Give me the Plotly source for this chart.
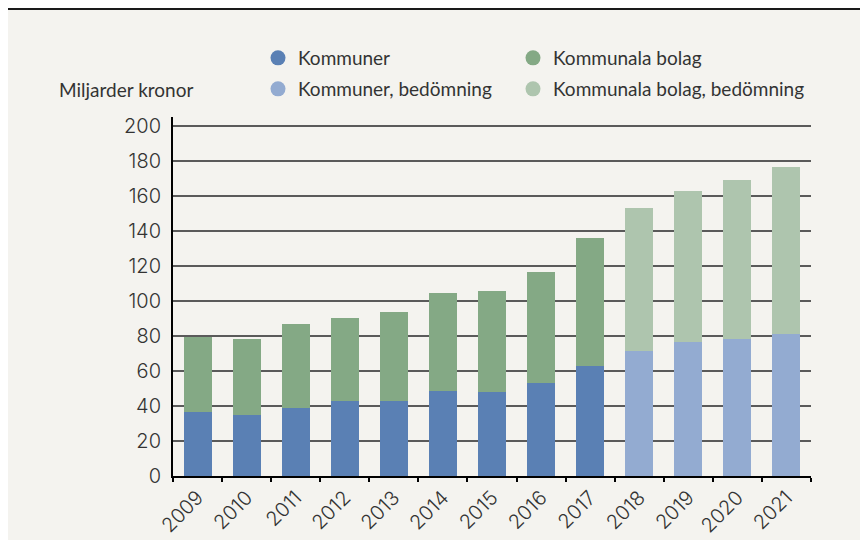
import plotly.graph_objects as go

years = ["2009", "2010", "2011", "2012", "2013", "2014", "2015",
         "2016", "2017", "2018", "2019", "2020", "2021"]
kommuner = [36.6, 34.9, 38.9, 42.9, 43.0, 48.6, 48.0, 53.1, 62.9, None, None, None, None]
kommuner_bed = [None, None, None, None, None, None, None, None, None, 71.4, 76.6, 78.3, 81.1]
totalt = [79.6, 78.3, 86.9, 90.3, 93.7, 104.6, 105.7, 116.6, 136.0, 153.1, 162.9, 169.1, 176.6]

bolag = [t - k if k is not None else None for t, k in zip(totalt, kommuner)]
bolag_bed = [t - k if k is not None else None for t, k in zip(totalt, kommuner_bed)]

C_KOM = "#5a80b4"
C_BOL = "#84a985"
C_KOM_B = "#93abd1"
C_BOL_B = "#aec5ae"
BG = "#f4f3ef"
TXT = "#333333"
FONT = "Lato"
TICKFONT = dict(family="Inter", size=20, color=TXT, weight=300)

W, H = 868, 543
# plot area in figure pixels (page adds 8px body margin)
PX_L, PX_R, PY_T, PY_B = 165, 803, 109, 468


def px(x):
    return (x - PX_L) / (PX_R - PX_L)


def py(y):
    return (PY_B - y) / (PY_B - PY_T)


fig = go.Figure()
for name, vals, col in [("Kommuner", kommuner, C_KOM),
                        ("Kommuner, bedömning", kommuner_bed, C_KOM_B),
                        ("Kommunala bolag", bolag, C_BOL),
                        ("Kommunala bolag, bedömning", bolag_bed, C_BOL_B)]:
    fig.add_trace(go.Bar(x=years, y=vals, name=name, marker=dict(color=col, line=dict(width=0)),
                         showlegend=False))

# legend entries with round markers, one legend per entry so each sits where it should
legend_items = [("Kommuner", C_KOM, "legend", 250, 50),
                ("Kommunala bolag", C_BOL, "legend2", 505, 50),
                ("Kommuner, bedömning", C_KOM_B, "legend3", 250, 81),
                ("Kommunala bolag, bedömning", C_BOL_B, "legend4", 505, 81)]
legends = {}
for name, col, lg, lx, ly in legend_items:
    fig.add_trace(go.Scatter(x=[years[0]], y=[None], mode="markers", name=name, legend=lg,
                             marker=dict(color=col, size=15, symbol="circle")))
    legends[lg] = dict(orientation="h", xanchor="left", yanchor="middle", x=px(lx), y=py(ly),
                       bgcolor="rgba(0,0,0,0)", traceorder="normal", itemclick=False,
                       font=dict(family=FONT, size=19, color=TXT))

fig.update_layout(
    width=W, height=H,
    margin=dict(l=PX_L, r=W - PX_R, t=PY_T, b=H - PY_B, pad=0),
    paper_bgcolor="white",
    plot_bgcolor=BG,
    barmode="stack",
    bargap=0.43,
    font=dict(family=FONT, size=18, color=TXT),
    xaxis=dict(type="category", range=[-0.5, len(years) - 0.5], tickangle=-45,
               showline=True, linecolor="black", linewidth=2,
               ticks="outside", tickson="boundaries", ticklen=4, tickwidth=2, tickcolor="black",
               showgrid=False, tickfont=TICKFONT),
    yaxis=dict(range=[0, 205], dtick=20, tick0=0, showline=True, linecolor="black", linewidth=2,
               showgrid=True, gridcolor="#5a5a5a", gridwidth=1.5, zeroline=False,
               ticks="", ticklabelstandoff=6, tickfont=TICKFONT),
    shapes=[
        dict(type="rect", xref="paper", yref="paper", x0=px(0), x1=px(W), y0=py(532), y1=py(0),
             fillcolor=BG, line=dict(width=0), layer="below"),
        dict(type="line", xref="paper", yref="paper", x0=px(0), x1=px(W), y0=py(0.5), y1=py(0.5),
             line=dict(color="#1a1a1a", width=3)),
    ],
    annotations=[
        dict(text="Miljarder kronor", xref="paper", yref="paper", x=px(49), y=py(81),
             xanchor="left", yanchor="middle", showarrow=False,
             font=dict(family=FONT, size=19, color=TXT)),
    ],
    **legends,
)

fig.write_html("out.html")
